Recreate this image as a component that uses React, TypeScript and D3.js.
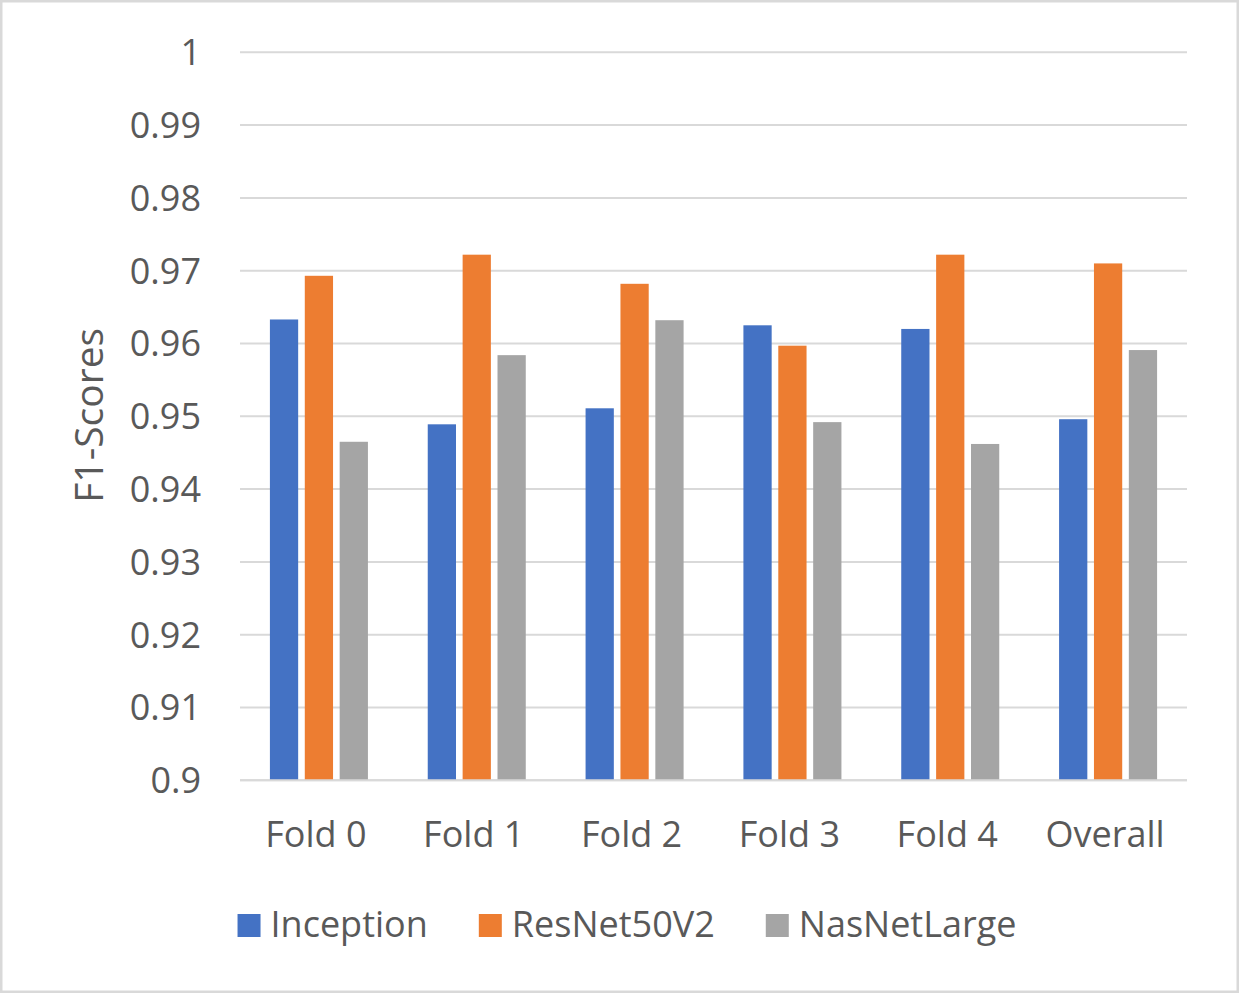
import { useEffect, useRef } from "react"
import * as d3 from "d3"

const categories = ["Fold 0", "Fold 1", "Fold 2", "Fold 3", "Fold 4", "Overall"]
const seriesNames = ["Inception", "ResNet50V2", "NasNetLarge"]
const inception = [0.9633, 0.9489, 0.9511, 0.9625, 0.962, 0.9496]
const resnet = [0.9693, 0.9722, 0.9682, 0.9597, 0.9722, 0.971]
const nasnet = [0.9465, 0.9584, 0.9632, 0.9492, 0.9462, 0.9591]
const yTicks = [0.9, 0.91, 0.92, 0.93, 0.94, 0.95, 0.96, 0.97, 0.98, 0.99, 1]
const colors = ["#4472C4", "#ED7D31", "#A5A5A5"]

export default function App() {
  const svgRef = useRef(null)

  useEffect(() => {
    if (!svgRef.current) return
    const svg = d3.select(svgRef.current)
    svg.selectAll("*").remove()

    const width = 1239
    const height = 993
    const left = 240
    const right = 1187
    const top = 52.3
    const bottom = 780.3
    const font = "'Open Sans', sans-serif"
    const textColor = "#595959"
    const gridColor = "#D9D9D9"

    // 外框
    svg
      .append("rect")
      .attr("x", 1.25)
      .attr("y", 1.25)
      .attr("width", width - 2.5)
      .attr("height", height - 2.5)
      .attr("fill", "white")
      .attr("stroke", gridColor)
      .attr("stroke-width", 2.5)

    const y = d3.scaleLinear().domain([0.9, 1]).range([bottom, top])
    const x0 = d3.scaleBand().domain(categories).range([left, right]).paddingInner(0.379).paddingOuter(0.1895)
    const x1 = d3.scaleBand().domain(seriesNames).range([0, x0.bandwidth()]).paddingInner(0.19)

    // 网格线
    svg
      .append("g")
      .selectAll("line")
      .data(yTicks)
      .enter()
      .append("line")
      .attr("x1", left)
      .attr("x2", right)
      .attr("y1", (d) => y(d))
      .attr("y2", (d) => y(d))
      .attr("stroke", gridColor)
      .attr("stroke-width", 2)

    // Y轴刻度
    svg
      .append("g")
      .selectAll("text")
      .data(yTicks)
      .enter()
      .append("text")
      .attr("x", 201)
      .attr("y", (d) => y(d))
      .attr("dy", "0.36em")
      .attr("text-anchor", "end")
      .attr("font-family", font)
      .attr("font-size", "36px")
      .attr("fill", textColor)
      .text((d) => d3.format("")(+d.toFixed(2)))

    // 柱子
    const data = categories.flatMap((c, i) =>
      [inception, resnet, nasnet].map((vals, j) => ({ cat: c, series: seriesNames[j], value: vals[i], color: colors[j] }))
    )
    svg
      .append("g")
      .selectAll("rect")
      .data(data)
      .enter()
      .append("rect")
      .attr("x", (d) => x0(d.cat) + x1(d.series))
      .attr("y", (d) => y(d.value))
      .attr("width", x1.bandwidth())
      .attr("height", (d) => bottom - y(d.value))
      .attr("fill", (d) => d.color)

    // X轴线
    svg
      .append("line")
      .attr("x1", left)
      .attr("x2", right)
      .attr("y1", bottom)
      .attr("y2", bottom)
      .attr("stroke", gridColor)
      .attr("stroke-width", 2)

    // X轴标签
    svg
      .append("g")
      .selectAll("text")
      .data(categories)
      .enter()
      .append("text")
      .attr("x", (d) => x0(d) + x0.bandwidth() / 2 - 3)
      .attr("y", 846.7)
      .attr("text-anchor", "middle")
      .attr("font-family", font)
      .attr("font-size", "36px")
      .attr("fill", textColor)
      .text((d) => d)

    // Y轴标题
    svg
      .append("text")
      .attr("transform", `translate(103,${(top + bottom) / 2 - 1}) rotate(-90)`)
      .attr("text-anchor", "middle")
      .attr("font-family", font)
      .attr("font-size", "39px")
      .attr("fill", textColor)
      .text("F1-Scores")

    // 图例
    const legend = svg.append("g")
    const box = 23
    const gapText = 10
    const gapItem = 51
    let cursor = 0
    seriesNames.forEach((name, i) => {
      const item = legend.append("g").attr("transform", `translate(${cursor},0)`)
      item.append("rect").attr("x", 0).attr("y", -box).attr("width", box).attr("height", box).attr("fill", colors[i])
      const t = item
        .append("text")
        .attr("x", box + gapText)
        .attr("y", 0)
        .attr("font-family", font)
        .attr("font-size", "36px")
        .attr("fill", textColor)
        .text(name)
      const w = (t.node() as SVGTextElement).getComputedTextLength()
      cursor += box + gapText + w + gapItem
    })
    const legendWidth = cursor - gapItem
    legend.attr("transform", `translate(${627 - legendWidth / 2},937)`)

    svg.attr("width", width).attr("height", height).attr("viewBox", [0, 0, width, height])
  }, [])

  return (
    <div>
      <style>{`body{margin:0}`}</style>
      <svg ref={svgRef} style={{ display: "block" }}></svg>
    </div>
  )
}
